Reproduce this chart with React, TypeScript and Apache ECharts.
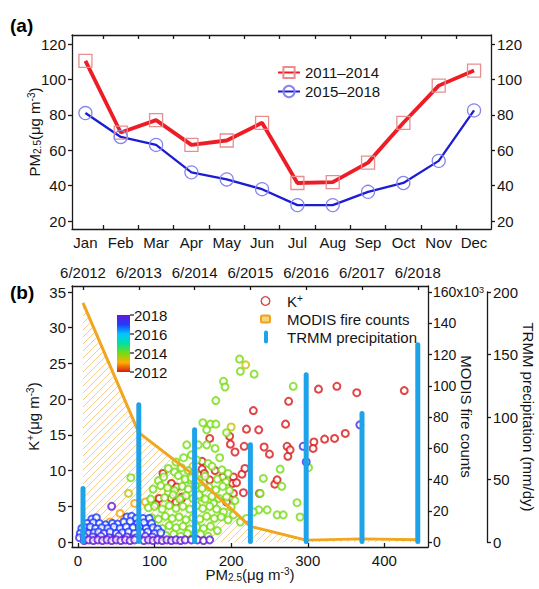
import React, { useEffect, useRef } from 'react';
import * as echarts from 'echarts';

// ---------- Panel (a) data ----------
const months = ['Jan', 'Feb', 'Mar', 'Apr', 'May', 'Jun', 'Jul', 'Aug', 'Sep', 'Oct', 'Nov', 'Dec'];
const pm2011to2014 = [110.5, 70, 77, 63, 65.5, 75.5, 41.5, 42, 53, 75.5, 96.5, 105];
const pm2015to2018 = [81, 67.5, 63, 47.5, 43.5, 38, 29, 29, 36.5, 41.5, 54, 82.5];
const panelATicks = [20, 40, 60, 80, 100, 120];

// ---------- Panel (b) data ----------
const sampleYears = [2012.5, 2013.5, 2014.5, 2015.5, 2016.5, 2017.5, 2018.5];
const dateLabels = ['6/2012', '6/2013', '6/2014', '6/2015', '6/2016', '6/2017', '6/2018'];
const modisFire = [153, 70, 42.5, 10, 1.2, 2, 1.5]; // x10^3
const trmmPrecip = [44, 111, 91, 79, 135, 104, 159];
const kTicks = [0, 5, 10, 15, 20, 25, 30, 35];
const pmTicks = [0, 100, 200, 300, 400];
const modisTicks = [0, 20, 40, 60, 80, 100, 120, 140, 160];
const trmmTicks = [0, 50, 100, 150, 200];
const colorbarTicks = [2012, 2014, 2016, 2018];
const colorScale = ['#d81818', '#ffae00', '#74dc12', '#00e0a0', '#00c8ff', '#1f3cff', '#6418d8'];

// K+ vs PM2.5 samples, grouped by sampling year
const k2012: number[][] = [
  [229, 18.4], [314, 21.4], [338, 21.8], [364, 20.9], [426, 21.2], [275, 19.7], [220, 15.8], [236, 15.7],
  [271, 16.5], [172, 14.5], [198, 14.8], [199, 13.7], [217, 13.4], [205, 12.6], [243, 13.3], [250, 12.3],
  [273, 13.4], [274, 12.0], [277, 12.9], [308, 14.0], [307, 13.1], [322, 14.4], [335, 14.5], [349, 15.2],
  [162, 11.3], [162, 10.2], [179, 10.0], [189, 9.1], [203, 9.1], [214, 9.5], [218, 10.3], [172, 8.7],
  [202, 8.2], [207, 8.3], [216, 6.9], [203, 6.8], [237, 6.8], [257, 8.1], [260, 8.7], [194, 5.6],
  [135, 6.1], [111, 9.6], [122, 8.2], [129, 7.7], [102, 5.3], [106, 6.1], [122, 6.1], [128, 5.6],
  [136, 6.3], [165, 9.6],
];
const k2013: number[][] = [[42, 2.8], [55, 4.0], [74, 5.4], [88, 5.6], [61, 3.3]];
const k2013b: number[][] = [[219, 24.8], [200, 16.1], [66, 6.8], [118, 7.0], [150, 10.6]];
const k2014: number[][] = [
  [211, 25.6], [212, 23.9], [230, 23.5], [190, 22.5], [192, 21.7], [180, 19.8], [281, 21.8], [163, 16.7],
  [173, 16.5], [180, 16.5], [168, 15.7], [194, 15.3], [142, 13.6], [157, 13.6], [168, 13.6], [179, 13.1],
  [242, 8.9], [264, 10.2], [266, 7.8], [238, 6.8], [286, 5.5], [236, 4.5], [247, 4.5], [260, 3.8],
  [268, 3.8], [290, 3.5], [301, 10.4], [177, 5.4], [160, 6.3], [146, 8.7], [190, 4.2], [203, 3.8],
  [212, 2.8], [220, 3.3], [229, 4.2], [69, 9.0],
  [128, 11.2], [138, 11.8], [148, 12.2], [155, 11.5], [170, 11.0], [185, 11.8],
  [118, 10.3], [126, 9.8], [135, 10.4], [144, 10.0], [152, 9.7], [175, 10.6], [188, 10.1], [196, 9.6],
  [105, 8.6], [112, 9.1], [131, 9.3], [140, 8.8], [148, 9.0], [158, 8.7], [166, 9.2], [182, 8.8], [193, 8.4],
  [98, 7.4], [108, 7.9], [117, 7.6], [126, 7.2], [136, 7.8], [144, 7.4], [153, 7.9], [162, 7.5], [171, 7.7],
  [180, 7.3], [189, 7.8], [198, 7.2],
  [95, 6.0], [113, 6.2], [124, 6.6], [133, 6.0], [141, 6.5], [150, 6.1], [158, 6.6], [166, 6.0], [175, 6.4],
  [184, 6.1], [194, 6.3], [205, 5.8],
  [92, 4.8], [100, 5.0], [110, 4.6], [119, 5.1], [128, 4.7], [137, 5.0], [146, 4.6], [155, 5.1], [163, 4.7],
  [172, 5.0], [181, 4.6], [200, 4.9],
  [96, 3.4], [105, 3.2], [114, 3.6], [123, 3.3], [132, 3.5], [141, 3.1], [150, 3.4], [159, 3.2], [168, 3.6],
  [178, 3.3], [187, 3.5], [196, 3.1],
  [110, 1.9], [119, 2.3], [128, 2.0], [137, 2.2], [146, 1.8], [155, 2.1], [164, 1.9], [173, 2.2], [182, 1.6],
  [115, 0.9], [125, 1.1], [134, 0.8], [143, 1.2], [152, 0.9], [160, 1.1], [170, 0.8],
];
const k2017: number[][] = [
  [18, 3.2], [24, 3.4], [64, 3.5], [70, 3.6], [76, 3.3], [85, 3.3], [93, 3.3],
  [12, 2.6], [20, 2.7], [28, 2.6], [36, 2.4], [45, 2.6], [52, 2.5], [60, 2.8], [68, 2.9], [78, 2.6], [86, 2.7], [96, 2.6],
  [5, 1.9], [10, 2.0], [16, 2.1], [23, 1.9], [31, 2.0], [39, 1.9], [47, 2.1], [55, 1.9], [63, 2.1], [72, 2.0],
  [80, 2.1], [89, 1.9], [98, 2.0], [104, 1.8],
  [3, 1.2], [9, 1.4], [14, 1.2], [21, 1.3], [27, 1.4], [34, 1.2], [42, 1.4], [50, 1.2], [58, 1.3], [66, 1.4],
  [74, 1.2], [83, 1.3], [91, 1.4], [100, 1.2], [108, 1.3],
];
const k2017b: number[][] = [
  [294, 13.4], [298, 11.2], [368, 16.4],
  [2, 0.6], [8, 0.8], [19, 0.7], [30, 0.8], [41, 0.6], [53, 0.8], [64, 0.7], [76, 0.6], [88, 0.8], [97, 0.7],
];
const k2018: number[][] = [
  [44, 5.0], [8, 0.2], [14, 0.3], [20, 0.2], [26, 0.3], [32, 0.2], [38, 0.3], [44, 0.2], [50, 0.3], [56, 0.2],
  [62, 0.3], [68, 0.2], [74, 0.3], [86, 0.2], [92, 0.3], [98, 0.2], [104, 0.3], [110, 0.2], [116, 0.3],
  [122, 0.2], [128, 0.3], [134, 0.2], [140, 0.3], [148, 0.3], [156, 0.3], [164, 0.2], [172, 0.3],
];
const groups: { pts: number[][]; year: number }[] = [
  { pts: k2012, year: 2012.0 },
  { pts: k2013, year: 2012.9 },
  { pts: k2013b, year: 2013.4 },
  { pts: k2014, year: 2014.0 },
  { pts: k2017, year: 2017.0 },
  { pts: k2017b, year: 2017.5 },
  { pts: k2018, year: 2018.0 },
];

const FONT = '"Liberation Sans", Arial, Helvetica, sans-serif';
const AX = '#1a1a1a';
const TXT = '#141414';
const BAR = '#1fa3e8';
const richSS = {
  sub: { fontSize: 10, verticalAlign: 'bottom', fontFamily: FONT, color: TXT, padding: [6, 0, 0, 0] },
  sup: { fontSize: 10, verticalAlign: 'top', fontFamily: FONT, color: TXT, padding: [0, 0, 6, 0] },
};
const richSmall = {
  sup: { fontSize: 9, verticalAlign: 'top', fontFamily: FONT, color: TXT, padding: [0, 0, 5, 0] },
};

function axLine() {
  return { show: true, onZero: false, lineStyle: { color: AX, width: 1.3 } };
}
function ticks(values: number[] | undefined, inside: boolean) {
  const t: any = { show: true, inside, length: 4, lineStyle: { color: AX, width: 1.3 } };
  if (values) t.customValues = values;
  return t;
}
function labels(values: number[] | undefined, extra: any = {}) {
  const l: any = { fontSize: 15, color: TXT, fontFamily: FONT, margin: 6, ...extra };
  if (values) l.customValues = values;
  return l;
}
const nameStyle = (rich?: any) => ({ fontSize: 15, color: TXT, fontFamily: FONT, ...(rich ? { rich } : {}) });

function makeHatch() {
  const s = 7;
  const c = document.createElement('canvas');
  c.width = s;
  c.height = s;
  const g = c.getContext('2d')!;
  g.strokeStyle = '#f5c77e';
  g.lineWidth = 0.9;
  g.beginPath();
  g.moveTo(0, s); g.lineTo(s, 0);
  g.moveTo(-1, 1); g.lineTo(1, -1);
  g.moveTo(s - 1, s + 1); g.lineTo(s + 1, s - 1);
  g.stroke();
  return c;
}

export default function App() {
  const ref = useRef<HTMLDivElement>(null);
  useEffect(() => {
    if (!ref.current) return;
    const chart = echarts.init(ref.current, null, { renderer: 'svg' });

    const monthIdx = months.map((_, i) => i);
    const monthBounds = months.slice(1).map((_, i) => i + 0.5);
    const scatterData: number[][] = [];
    groups.forEach((g) => g.pts.forEach((p) => scatterData.push([p[0], p[1], g.year])));

    const cbX = 117, cbTop = 315, cbH = 57, cbW = 13;
    const cbY = (yr: number) => cbTop + cbH - ((yr - 2012) / 6) * cbH;
    const stops = colorScale.map((c, i) => ({ offset: i / (colorScale.length - 1), color: c }));

    const graphics: any[] = [
      { type: 'text', left: 10, top: 16, style: { text: '(a)', font: `bold 19px ${FONT}`, fill: '#000' } },
      { type: 'text', left: 10, top: 283, style: { text: '(b)', font: `bold 19px ${FONT}`, fill: '#000' } },
      {
        type: 'rect', shape: { x: cbX, y: cbTop, width: cbW, height: cbH },
        style: { fill: new echarts.graphic.LinearGradient(0, 1, 0, 0, stops) }, z: 20,
      },
    ];
    colorbarTicks.forEach((yr) => {
      graphics.push({ type: 'line', shape: { x1: cbX + cbW, y1: cbY(yr), x2: cbX + cbW + 4, y2: cbY(yr) }, style: { stroke: AX, lineWidth: 1.2 }, z: 20 });
      graphics.push({ type: 'text', x: cbX + cbW + 4, y: cbY(yr), style: { text: String(yr), font: `15px ${FONT}`, fill: TXT, verticalAlign: 'middle' }, z: 20 });
    });
    // legend (b)
    graphics.push(
      { type: 'circle', shape: { cx: 265.5, cy: 301, r: 4.3 }, style: { fill: 'none', stroke: '#d24a4a', lineWidth: 1.4 }, z: 20 },
      { type: 'text', x: 287, y: 301, style: { text: 'K{sup|+}', rich: richSS, font: `15px ${FONT}`, fill: TXT, verticalAlign: 'middle' }, z: 20 },
      { type: 'rect', shape: { x: 261, y: 315.5, width: 9, height: 7, r: 1.5 }, style: { fill: '#f7d57e', stroke: '#f0a21e', lineWidth: 2 }, z: 20 },
      { type: 'text', x: 287, y: 319, style: { text: 'MODIS fire counts', font: `15px ${FONT}`, fill: TXT, verticalAlign: 'middle' }, z: 20 },
      { type: 'rect', shape: { x: 264, y: 330.5, width: 4, height: 13, r: 2 }, style: { fill: BAR }, z: 20 },
      { type: 'text', x: 287, y: 337, style: { text: 'TRMM precipitation', font: `15px ${FONT}`, fill: TXT, verticalAlign: 'middle' }, z: 20 },
    );

    const option: any = {
      animation: false,
      backgroundColor: '#fff',
      textStyle: { fontFamily: FONT },
      grid: [
        { left: 72, right: 111, top: 286, bottom: 42, outerBoundsMode: 'none', containLabel: false },
        { left: 72, right: 111, top: 292, bottom: 47, outerBoundsMode: 'none', containLabel: false },
        { left: 72, right: 48, top: 35, bottom: 360, outerBoundsMode: 'none', containLabel: false },
      ],
      legend: {
        left: 272, top: 60, orient: 'vertical', itemWidth: 22, itemHeight: 14, itemGap: 4,
        textStyle: { fontSize: 15, color: TXT, fontFamily: FONT },
        data: ['2011–2014', '2015–2018'],
      },
      visualMap: {
        type: 'continuous', show: false, min: 2012, max: 2018, dimension: 2, seriesIndex: 3,
        inRange: { color: colorScale },
      },
      xAxis: [
        {
          type: 'value', gridIndex: 0, position: 'bottom', min: -7.8, max: 457,
          axisLine: axLine(), axisTick: ticks(pmTicks, true), axisLabel: labels(pmTicks), splitLine: { show: false },
          name: 'PM{sub|2.5}(μg m{sup|-3})', nameLocation: 'middle', nameGap: 19, nameMoveOverlap: false,
          nameTextStyle: nameStyle(richSS),
        },
        {
          type: 'value', gridIndex: 0, position: 'top', min: 2012.303, max: 2018.683,
          axisLine: axLine(), axisTick: ticks(sampleYears, true),
          axisLabel: labels(sampleYears, { formatter: (v: number) => dateLabels[Math.round(v - 2012.5)] }),
          splitLine: { show: false },
        },
        { type: 'value', gridIndex: 1, min: 2012.303, max: 2018.683, show: false },
        {
          type: 'value', gridIndex: 2, position: 'bottom', min: -0.38, max: 11.48,
          axisLine: axLine(), axisTick: ticks(monthBounds, true),
          axisLabel: labels(monthIdx, { formatter: (v: number) => months[Math.round(v)] }),
          splitLine: { show: false },
        },
        {
          type: 'value', gridIndex: 2, position: 'top', min: -0.38, max: 11.48,
          axisLine: axLine(), axisTick: ticks(monthBounds, true), axisLabel: { show: false }, splitLine: { show: false },
        },
      ],
      yAxis: [
        {
          type: 'value', gridIndex: 0, position: 'left', min: -0.7, max: 35.84,
          axisLine: axLine(), axisTick: ticks(kTicks, false), axisLabel: labels(kTicks), splitLine: { show: false },
          name: 'K{sup|+}(μg m{sup|-3})', nameLocation: 'middle', nameGap: 31, nameMoveOverlap: false,
          nameTextStyle: nameStyle(richSS),
        },
        {
          type: 'value', gridIndex: 0, position: 'right', min: -3.2, max: 163.84,
          axisLine: axLine(), axisTick: ticks(modisTicks, false),
          axisLabel: labels(modisTicks, {
            fontSize: 14, margin: 5,
            formatter: (v: number) => (v === 160 ? '160x10{sup|3}' : String(v)), rich: richSmall,
          }),
          splitLine: { show: false },
          name: 'MODIS fire counts', nameLocation: 'middle', nameGap: 31, nameRotate: -90, nameMoveOverlap: false,
          nameTextStyle: nameStyle(),
        },
        {
          type: 'value', gridIndex: 1, position: 'right', offset: 59, min: 0, max: 200, interval: 50,
          axisLine: axLine(), axisTick: ticks(trmmTicks, false), axisLabel: labels(trmmTicks), splitLine: { show: false },
          name: 'TRMM precipitation (mm/dy)', nameLocation: 'middle', nameGap: 34, nameRotate: -90, nameMoveOverlap: false,
          nameTextStyle: nameStyle(),
        },
        {
          type: 'value', gridIndex: 2, position: 'left', min: 15.5, max: 125.1,
          axisLine: axLine(), axisTick: ticks(panelATicks, false), axisLabel: labels(panelATicks), splitLine: { show: false },
          name: 'PM{sub|2.5}(μg m{sup|-3})', nameLocation: 'middle', nameGap: 30, nameMoveOverlap: false,
          nameTextStyle: nameStyle(richSS),
        },
        {
          type: 'value', gridIndex: 2, position: 'right', min: 15.5, max: 125.1,
          axisLine: axLine(), axisTick: ticks(panelATicks, false), axisLabel: labels(panelATicks), splitLine: { show: false },
        },
      ],
      series: [
        {
          name: '2011–2014', type: 'line', xAxisIndex: 3, yAxisIndex: 3,
          data: months.map((_, i) => [i, pm2011to2014[i]]),
          lineStyle: { color: '#ee1c24', width: 3.8 }, symbol: 'rect', symbolSize: 13,
          itemStyle: { color: 'rgba(255,255,255,0)', borderColor: '#e98e8e', borderWidth: 1.3 }, z: 3,
        },
        {
          name: '2015–2018', type: 'line', xAxisIndex: 3, yAxisIndex: 3,
          data: months.map((_, i) => [i, pm2015to2018[i]]),
          lineStyle: { color: '#1c1cd2', width: 2.3 }, symbol: 'circle', symbolSize: 13,
          itemStyle: { color: 'rgba(255,255,255,0)', borderColor: '#8585ef', borderWidth: 1.3 }, z: 3,
        },
        {
          name: 'MODIS area', type: 'line', xAxisIndex: 1, yAxisIndex: 1,
          data: sampleYears.map((y, i) => [y, modisFire[i]]), symbol: 'none',
          lineStyle: { width: 0, opacity: 0 },
          areaStyle: { color: { image: makeHatch(), repeat: 'repeat' }, opacity: 1 }, z: 1,
        },
        {
          name: 'K+', type: 'scatter', xAxisIndex: 0, yAxisIndex: 0, data: scatterData,
          symbol: 'emptyCircle', symbolSize: 7, itemStyle: { borderWidth: 1.2 }, z: 2,
        },
        {
          name: 'MODIS fire counts', type: 'line', xAxisIndex: 1, yAxisIndex: 1,
          data: sampleYears.map((y, i) => [y, modisFire[i]]), symbol: 'none',
          lineStyle: { color: '#f0a61e', width: 3 }, z: 3,
        },
        {
          name: 'TRMM precipitation', type: 'custom', xAxisIndex: 2, yAxisIndex: 2,
          data: sampleYears.map((y, i) => [y, trmmPrecip[i]]),
          encode: { x: 0, y: 1 },
          renderItem: (_params: any, api: any) => {
            const top = api.coord([api.value(0), api.value(1)]);
            const bot = api.coord([api.value(0), 0]);
            return {
              type: 'rect',
              shape: { x: top[0] - 2.5, y: top[1] - 1, width: 5, height: bot[1] - top[1] + 3, r: 2.5 },
              style: { fill: BAR },
            };
          },
          z: 4,
        },
      ],
      graphic: graphics,
    };
    chart.setOption(option);
    return () => chart.dispose();
  }, []);
  return <div ref={ref} style={{ position: 'fixed', left: 0, top: 0, width: 539, height: 589, background: '#fff' }} />;
}
